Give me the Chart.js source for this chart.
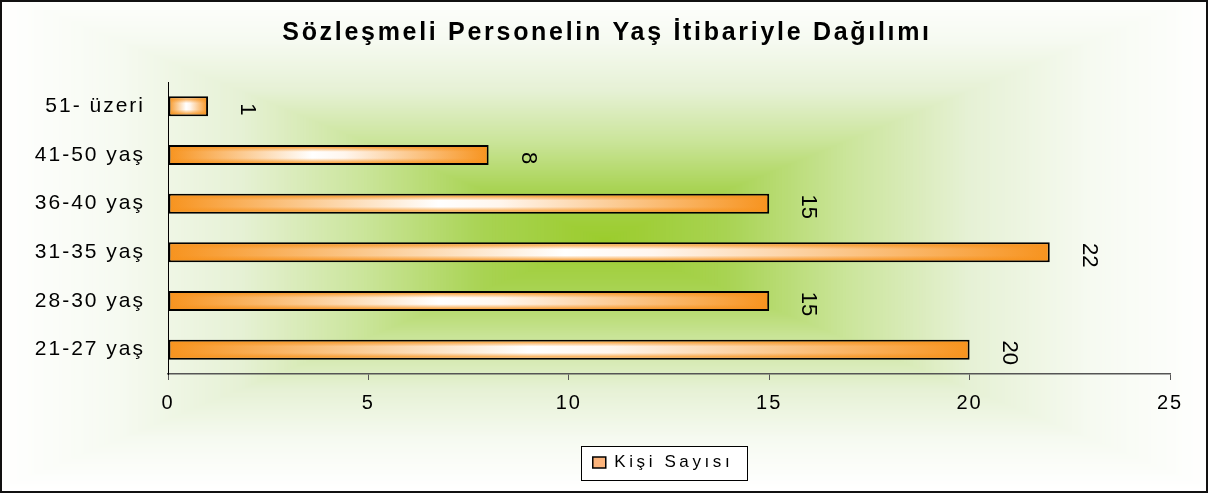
<!DOCTYPE html>
<html>
<head>
<meta charset="utf-8">
<script src="https://cdn.jsdelivr.net/npm/chart.js@4.4.0/dist/chart.umd.min.js"></script>
<style>
html, body { margin: 0; padding: 0; background: #fff; }
#wrap { width: 1209px; height: 495px; position: relative; }
</style>
</head>
<body>
<div id="wrap"><canvas id="ageChart"></canvas></div>
<script>
const chartTitle = 'Sözleşmeli Personelin Yaş İtibariyle Dağılımı';
const seriesName = 'Kişi Sayısı';
const ageGroups = ['51- üzeri', '41-50 yaş', '36-40 yaş', '31-35 yaş', '28-30 yaş', '21-27 yaş'];
const personCounts = [1, 8, 15, 22, 15, 20];
const xTicks = [0, 5, 10, 15, 20, 25];

const FONT = '"Liberation Sans", Arial, sans-serif';
const orange = '#f7931e';

// wrap a layout box so it gets its own letter spacing
function spaced(box, sp) {
    ['fit', 'draw'].forEach(m => {
        const f = box[m];
        box[m] = function (...args) {
            const c = this.ctx;
            const old = c.letterSpacing;
            c.letterSpacing = sp;
            const r = f.apply(this, args);
            c.letterSpacing = old;
            return r;
        };
    });
}

const spacingPlugin = {
    id: 'spacing',
    afterInit(chart) {
        if (chart.titleBlock) spaced(chart.titleBlock, '2.7px');
        if (chart.legend) spaced(chart.legend, '3.6px');
    },
    beforeUpdate(chart) { chart.ctx.letterSpacing = '2px'; },
    beforeDraw(chart) { chart.ctx.letterSpacing = '2px'; },
    afterLayout(chart) {
        // title and legend sit right of the plot centre in the original
        const tb = chart.titleBlock;
        if (tb) {
            tb.left += 22;
            tb.right += 22;
        }
        const lg = chart.legend;
        if (!lg) return;
        const dx = 78;
        lg.left += dx;
        lg.right += dx;
        (lg.legendHitBoxes || []).forEach(hb => { hb.left += dx; });
    }
};

// rectangular "from center" green background + legend frame
const backgroundPlugin = {
    id: 'bgFill',
    beforeDraw(chart) {
        const c = chart.ctx;
        const w = chart.width, h = chart.height;
        const cx = 605, cy = 240;
        const W = 610, H = 250;
        const stops = [
            [0, [155, 204, 44]],
            [0.2, [168, 211, 82]],
            [0.4, [203, 229, 155]],
            [0.6, [230, 241, 213]],
            [0.8, [246, 250, 241]],
            [1, [255, 255, 255]]
        ];
        function col(t) {
            for (let i = 1; i < stops.length; i++) {
                if (t <= stops[i][0]) {
                    const a = stops[i - 1], b = stops[i];
                    const k = (t - a[0]) / (b[0] - a[0]);
                    const rgb = a[1].map((v, j) => Math.round(v + (b[1][j] - v) * k));
                    return `rgb(${rgb[0]},${rgb[1]},${rgb[2]})`;
                }
            }
            return '#fff';
        }
        c.save();
        c.fillStyle = '#fff';
        c.fillRect(0, 0, w, h);
        for (let t = 1; t > 0; t -= 0.005) {
            c.fillStyle = col(t);
            c.fillRect(cx - t * W, cy - t * H, 2 * t * W, 2 * t * H);
        }
        // legend frame
        const lg = chart.legend;
        if (lg && lg.legendHitBoxes && lg.legendHitBoxes.length) {
            const hb = lg.legendHitBoxes[0];
            c.fillStyle = '#fff';
            c.strokeStyle = '#000';
            c.lineWidth = 1;
            const x = Math.round(hb.left - 12) + 0.5;
            const y = Math.round(hb.top - 8) + 0.5;
            const bw = Math.round(hb.width + 26);
            const bh = Math.round(hb.height + 17);
            c.fillRect(x, y, bw, bh);
            c.strokeRect(x, y, bw, bh);
        }
        c.restore();
    },
    afterDraw(chart) {
        const c = chart.ctx;
        c.save();
        c.strokeStyle = '#111';
        c.lineWidth = 2;
        c.strokeRect(1, 1, 1206, 491);
        c.restore();
    }
};

// white sheen on the bars and the rotated value labels
const barLabelPlugin = {
    id: 'barLabels',
    afterDatasetsDraw(chart) {
        const c = chart.ctx;
        const meta = chart.getDatasetMeta(0);
        c.save();
        meta.data.forEach(bar => {
            const p = bar.getProps(['x', 'y', 'base', 'height'], true);
            const top = p.y - p.height / 2 + 2;
            const hh = p.height - 4;
            const g = c.createLinearGradient(0, top, 0, top + hh);
            g.addColorStop(0, 'rgba(247,147,30,0.85)');
            g.addColorStop(0.3, 'rgba(247,147,30,0)');
            g.addColorStop(0.7, 'rgba(247,147,30,0)');
            g.addColorStop(1, 'rgba(247,147,30,0.85)');
            c.fillStyle = g;
            c.fillRect(p.base + 2, top, p.x - p.base - 4, hh);
        });
        c.letterSpacing = '0px';
        c.font = '22px ' + FONT;
        c.fillStyle = '#000';
        c.textAlign = 'center';
        c.textBaseline = 'middle';
        meta.data.forEach((bar, i) => {
            c.save();
            c.translate(bar.x + 39, bar.y + 3);
            c.rotate(Math.PI / 2);
            c.fillText(String(personCounts[i]), 0, 0);
            c.restore();
        });
        c.restore();
    }
};

function barFill(ctx) {
    const chart = ctx.chart;
    if (!chart.chartArea || ctx.type !== 'data') return orange;
    const xs = chart.scales.x;
    const x0 = xs.getPixelForValue(0);
    const x1 = xs.getPixelForValue(ctx.raw);
    const g = chart.ctx.createLinearGradient(x0, 0, x1, 0);
    g.addColorStop(0, orange);
    g.addColorStop(0.45, '#ffffff');
    g.addColorStop(0.55, '#fff6ee');
    g.addColorStop(1, orange);
    return g;
}

const ctx = document.getElementById('ageChart').getContext('2d');
new Chart(ctx, {
    type: 'bar',
    data: {
        labels: ageGroups,
        datasets: [{
            label: seriesName,
            data: personCounts,
            backgroundColor: barFill,
            borderColor: '#000',
            borderWidth: 2,
            borderSkipped: false,
            barPercentage: 0.41,
            categoryPercentage: 1
        }]
    },
    options: {
        indexAxis: 'y',
        responsive: true,
        maintainAspectRatio: false,
        animation: false,
        layout: {
            padding: { left: 0, right: 39, top: 0, bottom: 14 }
        },
        scales: {
            x: {
                min: 0,
                max: 25,
                afterBuildTicks: (scale) => {
                    scale.ticks = xTicks.map(v => ({ value: v }));
                },
                afterFit: (scale) => { scale.height = 70; },
                grid: {
                    display: true,
                    drawOnChartArea: false,
                    drawTicks: true,
                    tickLength: 6,
                    color: '#555'
                },
                border: { display: true, color: '#555', width: 1.5 },
                ticks: {
                    color: '#000',
                    padding: 11,
                    maxRotation: 0,
                    font: { family: FONT, size: 20 }
                }
            },
            y: {
                afterFit: (scale) => { scale.width = 168; },
                grid: { display: false, drawTicks: false },
                border: { display: true, color: '#000', width: 1 },
                ticks: {
                    color: '#000',
                    padding: 23,
                    font: { family: FONT, size: 21 }
                }
            }
        },
        plugins: {
            title: {
                display: true,
                text: chartTitle,
                color: '#000',
                font: { family: FONT, size: 25, weight: 'bold' },
                padding: { top: 18, bottom: 34 }
            },
            legend: {
                display: true,
                position: 'bottom',
                labels: {
                    color: '#000',
                    font: { family: FONT, size: 17 },
                    boxWidth: 13,
                    boxHeight: 11,
                    padding: 10,
                    generateLabels: (chart) => [{
                        text: seriesName,
                        fillStyle: '#fcb47c',
                        strokeStyle: '#000',
                        lineWidth: 1.5,
                        datasetIndex: 0,
                        hidden: false
                    }]
                }
            },
            tooltip: { enabled: false }
        }
    },
    plugins: [spacingPlugin, backgroundPlugin, barLabelPlugin]
});
</script>
</body>
</html>
